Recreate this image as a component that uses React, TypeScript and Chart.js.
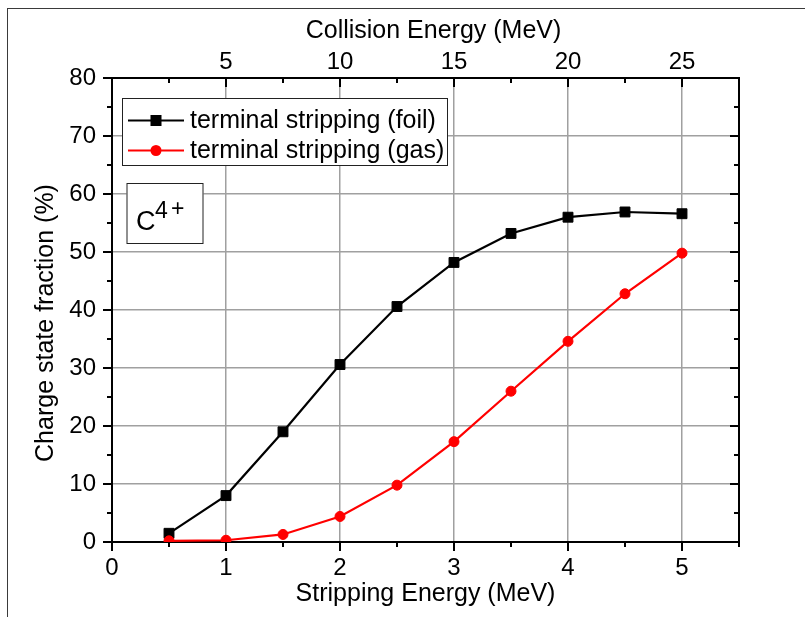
import React, { useEffect, useRef } from "react";
import { Chart, registerables } from "chart.js";

Chart.register(...registerables);

const strippingEnergy = [0.5, 1, 1.5, 2, 2.5, 3, 3.5, 4, 4.5, 5];
const foilFraction = [1.5, 8.0, 19.0, 30.6, 40.6, 48.2, 53.2, 56.0, 56.9, 56.6];
const gasFraction = [0.2, 0.3, 1.3, 4.4, 9.8, 17.3, 26.0, 34.6, 42.8, 49.8];
const seriesLabels = ["terminal stripping (foil)", "terminal stripping (gas)"];

const xTickValues = [0, 0.5, 1, 1.5, 2, 2.5, 3, 3.5, 4, 4.5, 5, 5.5];
const x2TickValues = [0, 2.5, 5, 7.5, 10, 12.5, 15, 17.5, 20, 22.5, 25, 27.5];
const yTickValues = [0, 5, 10, 15, 20, 25, 30, 35, 40, 45, 50, 55, 60, 65, 70, 75, 80];

const xTitle = "Stripping Energy (MeV)";
const x2Title = "Collision Energy (MeV)";
const yTitle = "Charge state fraction (%)";

const FONT = "'Liberation Sans', Arial, Helvetica, sans-serif";
const GRID = "#a0a0a0";

const framePlugin = {
  id: "frame",
  beforeDraw(chart: any) {
    const ctx = chart.ctx;
    ctx.save();
    ctx.fillStyle = "#ffffff";
    ctx.fillRect(0, 0, chart.width, chart.height);
    ctx.strokeStyle = "#3a3a3a";
    ctx.lineWidth = 1;
    ctx.strokeRect(7.5, 8.5, chart.width + 20, chart.height + 20);
    ctx.restore();
  },
};

const titlePlugin = {
  id: "axisTitles",
  afterDraw(chart: any) {
    const ctx = chart.ctx;
    const { left, right, top, bottom } = chart.chartArea;
    const cx = (left + right) / 2;
    const cy = (top + bottom) / 2;
    ctx.save();
    ctx.fillStyle = "#000";
    ctx.font = `25px ${FONT}`;
    ctx.textAlign = "center";
    ctx.textBaseline = "alphabetic";
    ctx.fillText(x2Title, cx + 8, top - 40);
    ctx.fillText(xTitle, cx, bottom + 59);
    ctx.translate(left - 59, cy + 13);
    ctx.rotate(-Math.PI / 2);
    ctx.fillText(yTitle, 0, 0);
    ctx.restore();
  },
};

const tickPlugin = {
  id: "customTicks",
  afterDraw(chart: any) {
    const ctx = chart.ctx;
    const { left, right, top, bottom } = chart.chartArea;
    const { x, x2, y } = chart.scales;
    ctx.save();
    ctx.strokeStyle = "#000";
    ctx.lineWidth = 2;
    ctx.beginPath();
    xTickValues.forEach((v, i) => {
      const px = x.getPixelForValue(v);
      const len = i % 2 === 0 ? 9 : 5;
      ctx.moveTo(px, bottom);
      ctx.lineTo(px, bottom + len);
    });
    x2TickValues.forEach((v, i) => {
      const px = x2.getPixelForValue(v);
      const len = i % 2 === 0 ? 9 : 5;
      ctx.moveTo(px, top);
      ctx.lineTo(px, top + len);
    });
    yTickValues.forEach((v, i) => {
      const py = y.getPixelForValue(v);
      const len = i % 2 === 0 ? 9 : 5;
      ctx.moveTo(left, py);
      ctx.lineTo(left - len, py);
      ctx.moveTo(right, py);
      ctx.lineTo(right - len, py);
    });
    ctx.stroke();
    ctx.restore();
  },
};

const boxesPlugin = {
  id: "boxes",
  afterDatasetsDraw(chart: any) {
    const ctx = chart.ctx;
    const { left, top } = chart.chartArea;
    ctx.save();
    // legend
    const lx = left + 10;
    const ly = top + 20;
    ctx.fillStyle = "#fff";
    ctx.fillRect(lx, ly, 325, 67);
    ctx.strokeStyle = "#222";
    ctx.lineWidth = 1;
    ctx.strokeRect(lx + 0.5, ly + 0.5, 325, 67);
    const datasets = chart.data.datasets;
    datasets.forEach((ds: any, i: number) => {
      const ry = ly + 22.5 + i * 30;
      ctx.strokeStyle = ds.borderColor;
      ctx.lineWidth = ds.borderWidth;
      ctx.beginPath();
      ctx.moveTo(lx + 6, ry);
      ctx.lineTo(lx + 62, ry);
      ctx.stroke();
      ctx.fillStyle = ds.pointBackgroundColor;
      const cx = lx + 34;
      if (ds.pointStyle === "rect") {
        ctx.fillRect(cx - 5.5, ry - 5.5, 11, 11);
      } else {
        ctx.beginPath();
        ctx.arc(cx, ry, 5.5, 0, Math.PI * 2);
        ctx.fill();
      }
      ctx.fillStyle = "#000";
      ctx.font = `25px ${FONT}`;
      ctx.textBaseline = "alphabetic";
      ctx.textAlign = "left";
      ctx.fillText(ds.label, lx + 68, ry + 7.5);
    });
    // C4+ box
    const bx = left + 14.5;
    const by = top + 105;
    ctx.fillStyle = "#fff";
    ctx.fillRect(bx, by, 77, 61);
    ctx.strokeStyle = "#222";
    ctx.lineWidth = 1;
    ctx.strokeRect(bx + 0.5, by + 0.5, 76, 60);
    ctx.fillStyle = "#000";
    ctx.textAlign = "left";
    ctx.textBaseline = "alphabetic";
    ctx.font = `27px ${FONT}`;
    ctx.fillText("C", bx + 9.5, by + 46.5);
    ctx.font = `23px ${FONT}`;
    ctx.fillText("4", bx + 28.5, by + 35);
    ctx.fillText("+", bx + 44.5, by + 33);
    ctx.restore();
  },
};

export default function App() {
  const canvasRef = useRef<HTMLCanvasElement | null>(null);

  useEffect(() => {
    if (!canvasRef.current) return;
    const tickFont = { family: FONT, size: 24 };
    const chart = new Chart(canvasRef.current, {
      type: "line",
      data: {
        datasets: [
          {
            label: seriesLabels[0],
            data: strippingEnergy.map((e, i) => ({ x: e, y: foilFraction[i] })),
            borderColor: "#000000",
            backgroundColor: "#000000",
            pointBackgroundColor: "#000000",
            pointBorderColor: "#000000",
            pointStyle: "rect",
            pointRadius: 7,
            pointBorderWidth: 1,
            borderWidth: 2.2,
            order: 2,
            xAxisID: "x",
            yAxisID: "y",
          },
          {
            label: seriesLabels[1],
            data: strippingEnergy.map((e, i) => ({ x: e, y: gasFraction[i] })),
            borderColor: "#ff0000",
            backgroundColor: "#ff0000",
            pointBackgroundColor: "#ff0000",
            pointBorderColor: "#ff0000",
            pointStyle: "circle",
            pointRadius: 5,
            pointBorderWidth: 1,
            borderWidth: 2.2,
            order: 1,
            xAxisID: "x",
            yAxisID: "y",
          },
        ],
      },
      options: {
        responsive: false,
        animation: false,
        events: [],
        layout: { padding: 0 },
        plugins: { legend: { display: false }, tooltip: { enabled: false } },
        scales: {
          x: {
            type: "linear",
            position: "bottom",
            min: 0,
            max: 5.5,
            afterBuildTicks: (s: any) => {
              s.ticks = xTickValues.map((v) => ({ value: v }));
            },
            afterFit: (s: any) => {
              s.height = 75;
            },
            ticks: {
              color: "#000",
              font: tickFont,
              padding: 12,
              maxRotation: 0,
              autoSkip: false,
              callback: (v: any) => (Number(v) % 1 === 0 ? String(v) : ""),
            },
            grid: {
              drawTicks: false,
              lineWidth: 1.5,
              color: (c: any) => {
                const v = c.tick ? c.tick.value : 0;
                return v % 1 === 0 && v > 0 && v < 5.5 ? GRID : "rgba(0,0,0,0)";
              },
            },
            border: { display: true, color: "#000", width: 2 },
          },
          x2: {
            type: "linear",
            position: "top",
            min: 0,
            max: 27.5,
            afterBuildTicks: (s: any) => {
              s.ticks = x2TickValues.map((v) => ({ value: v }));
            },
            afterFit: (s: any) => {
              s.height = 78;
            },
            ticks: {
              color: "#000",
              font: tickFont,
              padding: 1,
              maxRotation: 0,
              autoSkip: false,
              callback: (v: any) => {
                const n = Number(v);
                return n % 5 === 0 && n > 0 && n <= 25 ? String(n) : "";
              },
            },
            grid: { display: false, drawTicks: false },
            border: { display: true, color: "#000", width: 2 },
          },
          y: {
            type: "linear",
            position: "left",
            min: 0,
            max: 80,
            afterBuildTicks: (s: any) => {
              s.ticks = yTickValues.map((v) => ({ value: v }));
            },
            afterFit: (s: any) => {
              s.width = 112;
            },
            ticks: {
              color: "#000",
              font: tickFont,
              padding: 16,
              autoSkip: false,
              callback: (v: any) => (Number(v) % 10 === 0 ? String(v) : ""),
            },
            grid: {
              drawTicks: false,
              lineWidth: 1.5,
              color: (c: any) => {
                const v = c.tick ? c.tick.value : 0;
                return v % 10 === 0 && v > 0 && v < 80 ? GRID : "rgba(0,0,0,0)";
              },
            },
            border: { display: true, color: "#000", width: 2 },
          },
          y2: {
            type: "linear",
            position: "right",
            min: 0,
            max: 80,
            afterFit: (s: any) => {
              s.width = 66;
            },
            ticks: { display: false },
            grid: { display: false, drawTicks: false },
            border: { display: true, color: "#000", width: 2 },
          },
        },
      },
      plugins: [framePlugin, tickPlugin, boxesPlugin, titlePlugin],
    } as any);
    return () => chart.destroy();
  }, []);

  return (
    <div style={{ position: "fixed", left: 0, top: 0, width: 805, height: 617, background: "#fff" }}>
      <canvas ref={canvasRef} width={805} height={617} style={{ display: "block" }} />
    </div>
  );
}
